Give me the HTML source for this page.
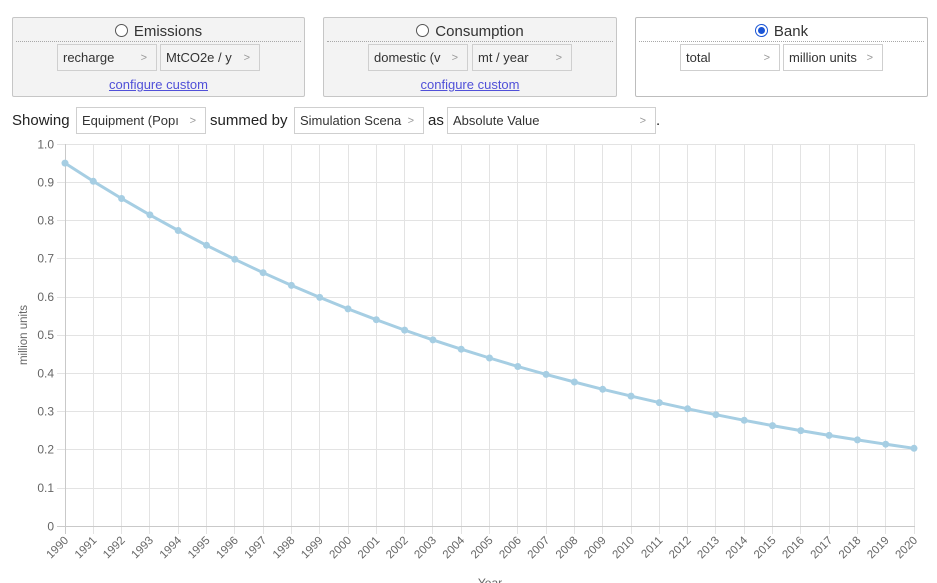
<!DOCTYPE html>
<html><head><meta charset="utf-8">
<style>
*{box-sizing:border-box;margin:0;padding:0}
html,body{width:937px;height:583px;overflow:hidden;background:#fff;font-family:"Liberation Sans",Arial,sans-serif;color:#222}
.panel{position:absolute;top:17px;height:80px;border:1px solid #c6c6c6;border-radius:2px;background:#f3f3f3}
.panel.white{background:#fff;border-color:#bdbdbd}
.title{position:absolute;top:4px;left:0;right:0;text-align:center;font-size:15px;line-height:20px;color:#333}
.radio{display:inline-block;width:13px;height:13px;border:1px solid #555;border-radius:50%;background:#fff;vertical-align:-1px;margin-right:6px;position:relative}
.radio.on{border:1px solid #1a55d6}
.radio.on:after{content:"";position:absolute;left:2px;top:2px;width:7px;height:7px;border-radius:50%;background:#1a55d6}
.div{position:absolute;top:23px;left:3px;right:3px;border-top:1px dotted #a8a8a8}
.sel{position:absolute;height:27px;border:1px solid #cfcfcf;font-size:13px;line-height:25px;padding-left:5px;color:#333;white-space:nowrap;overflow:hidden}
.sel .ar{position:absolute;right:9px;top:1px;color:#999;font-size:11px;line-height:25px}
.link{position:absolute;top:59px;left:0;right:0;text-align:center;font-size:13px;color:#5050d8;text-decoration:underline}
.row{position:absolute;top:107px;height:27px;font-size:15px;line-height:27px;color:#222}
.wsel{background:#fff}
</style></head><body>

<div class="panel" style="left:12px;width:293px">
  <div class="title"><span class="radio"></span>Emissions</div>
  <div class="div"></div>
  <div class="sel" style="left:44px;top:26px;width:100px">recharge<span class="ar">&gt;</span></div>
  <div class="sel" style="left:147px;top:26px;width:100px">MtCO2e / y<span class="ar">&gt;</span></div>
  <div class="link">configure custom</div>
</div>

<div class="panel" style="left:323px;width:294px">
  <div class="title"><span class="radio"></span>Consumption</div>
  <div class="div"></div>
  <div class="sel" style="left:44px;top:26px;width:100px">domestic (v<span class="ar">&gt;</span></div>
  <div class="sel" style="left:148px;top:26px;width:100px">mt / year<span class="ar">&gt;</span></div>
  <div class="link">configure custom</div>
</div>

<div class="panel white" style="left:635px;width:293px">
  <div class="title"><span class="radio on"></span>Bank</div>
  <div class="div"></div>
  <div class="sel" style="left:44px;top:26px;width:100px">total<span class="ar">&gt;</span></div>
  <div class="sel" style="left:147px;top:26px;width:100px">million units<span class="ar">&gt;</span></div>
</div>

<div class="row" style="left:12px">Showing</div>
<div class="sel wsel" style="left:76px;top:107px;width:130px">Equipment (Popı<span class="ar">&gt;</span></div>
<div class="row" style="left:210px">summed by</div>
<div class="sel wsel" style="left:294px;top:107px;width:130px">Simulation Scena<span class="ar">&gt;</span></div>
<div class="row" style="left:428px">as</div>
<div class="sel wsel" style="left:447px;top:107px;width:209px">Absolute Value<span class="ar">&gt;</span></div>
<div class="row" style="left:656px">.</div>

<svg style="position:absolute;left:0;top:0" width="937" height="583" viewBox="0 0 937 583" font-family="Liberation Sans, Arial, sans-serif">
<g stroke="#e3e3e3" stroke-width="1">
<line x1="57" x2="915" y1="144.5" y2="144.5"/>
<line x1="57" x2="915" y1="182.5" y2="182.5"/>
<line x1="57" x2="915" y1="220.5" y2="220.5"/>
<line x1="57" x2="915" y1="258.5" y2="258.5"/>
<line x1="57" x2="915" y1="297.5" y2="297.5"/>
<line x1="57" x2="915" y1="335.5" y2="335.5"/>
<line x1="57" x2="915" y1="373.5" y2="373.5"/>
<line x1="57" x2="915" y1="411.5" y2="411.5"/>
<line x1="57" x2="915" y1="449.5" y2="449.5"/>
<line x1="57" x2="915" y1="488.5" y2="488.5"/>
</g>
<g stroke="#e3e3e3" stroke-width="1">
<line y1="144" y2="534" x1="93.5" x2="93.5"/>
<line y1="144" y2="534" x1="121.5" x2="121.5"/>
<line y1="144" y2="534" x1="149.5" x2="149.5"/>
<line y1="144" y2="534" x1="178.5" x2="178.5"/>
<line y1="144" y2="534" x1="206.5" x2="206.5"/>
<line y1="144" y2="534" x1="234.5" x2="234.5"/>
<line y1="144" y2="534" x1="263.5" x2="263.5"/>
<line y1="144" y2="534" x1="291.5" x2="291.5"/>
<line y1="144" y2="534" x1="319.5" x2="319.5"/>
<line y1="144" y2="534" x1="348.5" x2="348.5"/>
<line y1="144" y2="534" x1="376.5" x2="376.5"/>
<line y1="144" y2="534" x1="404.5" x2="404.5"/>
<line y1="144" y2="534" x1="432.5" x2="432.5"/>
<line y1="144" y2="534" x1="461.5" x2="461.5"/>
<line y1="144" y2="534" x1="489.5" x2="489.5"/>
<line y1="144" y2="534" x1="517.5" x2="517.5"/>
<line y1="144" y2="534" x1="546.5" x2="546.5"/>
<line y1="144" y2="534" x1="574.5" x2="574.5"/>
<line y1="144" y2="534" x1="602.5" x2="602.5"/>
<line y1="144" y2="534" x1="631.5" x2="631.5"/>
<line y1="144" y2="534" x1="659.5" x2="659.5"/>
<line y1="144" y2="534" x1="687.5" x2="687.5"/>
<line y1="144" y2="534" x1="715.5" x2="715.5"/>
<line y1="144" y2="534" x1="744.5" x2="744.5"/>
<line y1="144" y2="534" x1="772.5" x2="772.5"/>
<line y1="144" y2="534" x1="800.5" x2="800.5"/>
<line y1="144" y2="534" x1="829.5" x2="829.5"/>
<line y1="144" y2="534" x1="857.5" x2="857.5"/>
<line y1="144" y2="534" x1="885.5" x2="885.5"/>
<line y1="144" y2="534" x1="914.5" x2="914.5"/>
</g>
<g stroke="#c9c9c9" stroke-width="1">
<line y1="144" y2="534" x1="65.5" x2="65.5"/>
<line x1="57" x2="915" y1="526.5" y2="526.5"/>
</g>
<g fill="#666" font-size="12" text-anchor="end">
<text x="54" y="148.5">1.0</text>
<text x="54" y="186.5">0.9</text>
<text x="54" y="224.5">0.8</text>
<text x="54" y="262.5">0.7</text>
<text x="54" y="301">0.6</text>
<text x="54" y="339">0.5</text>
<text x="54" y="377.5">0.4</text>
<text x="54" y="415.5">0.3</text>
<text x="54" y="453.5">0.2</text>
<text x="54" y="492">0.1</text>
<text x="54" y="530.5">0</text>
</g>
<text transform="translate(27,335) rotate(-90)" text-anchor="middle" fill="#666" font-size="11.5">million units</text>
<text x="490" y="587" text-anchor="middle" fill="#666" font-size="12">Year</text>
<g fill="#666" font-size="11.5" text-anchor="end">
<text transform="translate(69,541) rotate(-45)">1990</text>
<text transform="translate(97.3,541) rotate(-45)">1991</text>
<text transform="translate(125.6,541) rotate(-45)">1992</text>
<text transform="translate(153.9,541) rotate(-45)">1993</text>
<text transform="translate(182.2,541) rotate(-45)">1994</text>
<text transform="translate(210.5,541) rotate(-45)">1995</text>
<text transform="translate(238.8,541) rotate(-45)">1996</text>
<text transform="translate(267.1,541) rotate(-45)">1997</text>
<text transform="translate(295.4,541) rotate(-45)">1998</text>
<text transform="translate(323.7,541) rotate(-45)">1999</text>
<text transform="translate(352,541) rotate(-45)">2000</text>
<text transform="translate(380.3,541) rotate(-45)">2001</text>
<text transform="translate(408.6,541) rotate(-45)">2002</text>
<text transform="translate(436.9,541) rotate(-45)">2003</text>
<text transform="translate(465.2,541) rotate(-45)">2004</text>
<text transform="translate(493.5,541) rotate(-45)">2005</text>
<text transform="translate(521.8,541) rotate(-45)">2006</text>
<text transform="translate(550.1,541) rotate(-45)">2007</text>
<text transform="translate(578.4,541) rotate(-45)">2008</text>
<text transform="translate(606.7,541) rotate(-45)">2009</text>
<text transform="translate(635,541) rotate(-45)">2010</text>
<text transform="translate(663.3,541) rotate(-45)">2011</text>
<text transform="translate(691.6,541) rotate(-45)">2012</text>
<text transform="translate(719.9,541) rotate(-45)">2013</text>
<text transform="translate(748.2,541) rotate(-45)">2014</text>
<text transform="translate(776.5,541) rotate(-45)">2015</text>
<text transform="translate(804.8,541) rotate(-45)">2016</text>
<text transform="translate(833.1,541) rotate(-45)">2017</text>
<text transform="translate(861.4,541) rotate(-45)">2018</text>
<text transform="translate(889.7,541) rotate(-45)">2019</text>
<text transform="translate(918,541) rotate(-45)">2020</text>
</g>
<polyline fill="none" stroke="#a6cee3" stroke-width="3" stroke-linejoin="round" points="65,163.1 93.3,181.3 121.6,198.5 149.9,214.9 178.2,230.5 206.5,245.3 234.8,259.3 263.1,272.7 291.4,285.4 319.7,297.4 348,308.9 376.3,319.7 404.6,330.1 432.9,339.9 461.2,349.2 489.5,358 517.8,366.5 546.1,374.4 574.4,382 602.7,389.3 631,396.1 659.3,402.6 687.6,408.8 715.9,414.7 744.2,420.3 772.5,425.6 800.8,430.6 829.1,435.4 857.4,439.9 885.7,444.2 914,448.3"/>
<g fill="#a6cee3">
<circle cx="65" cy="163.1" r="3.5"/><circle cx="93.3" cy="181.3" r="3.5"/><circle cx="121.6" cy="198.5" r="3.5"/><circle cx="149.9" cy="214.9" r="3.5"/><circle cx="178.2" cy="230.5" r="3.5"/><circle cx="206.5" cy="245.3" r="3.5"/><circle cx="234.8" cy="259.3" r="3.5"/><circle cx="263.1" cy="272.7" r="3.5"/><circle cx="291.4" cy="285.4" r="3.5"/><circle cx="319.7" cy="297.4" r="3.5"/><circle cx="348" cy="308.9" r="3.5"/><circle cx="376.3" cy="319.7" r="3.5"/><circle cx="404.6" cy="330.1" r="3.5"/><circle cx="432.9" cy="339.9" r="3.5"/><circle cx="461.2" cy="349.2" r="3.5"/><circle cx="489.5" cy="358" r="3.5"/><circle cx="517.8" cy="366.5" r="3.5"/><circle cx="546.1" cy="374.4" r="3.5"/><circle cx="574.4" cy="382" r="3.5"/><circle cx="602.7" cy="389.3" r="3.5"/><circle cx="631" cy="396.1" r="3.5"/><circle cx="659.3" cy="402.6" r="3.5"/><circle cx="687.6" cy="408.8" r="3.5"/><circle cx="715.9" cy="414.7" r="3.5"/><circle cx="744.2" cy="420.3" r="3.5"/><circle cx="772.5" cy="425.6" r="3.5"/><circle cx="800.8" cy="430.6" r="3.5"/><circle cx="829.1" cy="435.4" r="3.5"/><circle cx="857.4" cy="439.9" r="3.5"/><circle cx="885.7" cy="444.2" r="3.5"/><circle cx="914" cy="448.3" r="3.5"/>
</g>
</svg>
</body></html>
